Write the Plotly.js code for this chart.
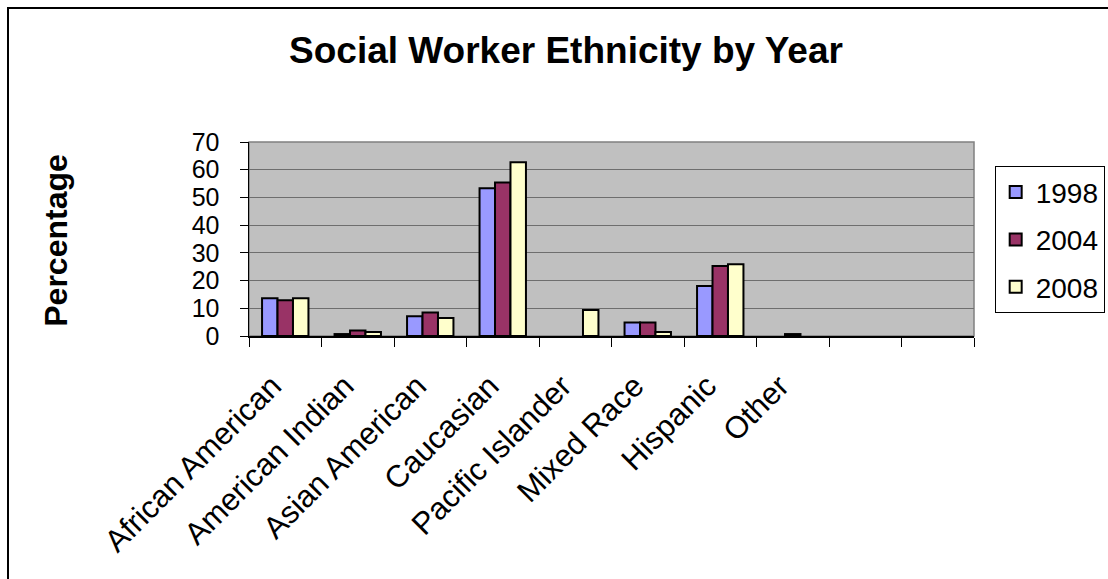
<!DOCTYPE html>
<html>
<head>
<meta charset="utf-8">
<script src="https://cdn.plot.ly/plotly-3.0.1.min.js"></script>
<style>
  html, body { margin: 0; padding: 0; background: #fff; }
  #wrap { position: relative; width: 1108px; height: 579px; overflow: hidden; }
  #chart { position: absolute; left: 0; top: 0; width: 1108px; height: 579px; }
  #frame { position: absolute; left: 7px; top: 7px; width: 1200px; height: 700px;
           border-left: 2.5px solid #000; border-top: 2.5px solid #000; pointer-events: none; }
</style>
</head>
<body>
<div id="wrap">
  <div id="chart"></div>
  <div id="frame"></div>
</div>
<script>
// Categories (last two are empty slots on the axis)
const categories = ["African American", "American Indian", "Asian American", "Caucasian",
                    "Pacific Islander", "Mixed Race", "Hispanic", "Other", " ", "  "];
const seriesNames = ["1998", "2004", "2008"];
const values1998 = [13.6, 0.7, 7.1, 53.3, null, 4.9, 18.0, null, null, null];
const values2004 = [12.9, 2.0, 8.5, 55.4, null, 4.9, 25.3, 0.7, null, null];
const values2008 = [13.6, 1.4, 6.5, 62.7, 9.4, 1.4, 25.9, null, null, null];
const seriesColors = ["#9999FF", "#993366", "#FFFFCC"];
const yTicks = [0, 10, 20, 30, 40, 50, 60, 70];

const allValues = [values1998, values2004, values2008];
const traces = allValues.map((vals, i) => ({
  type: "bar",
  name: seriesNames[i],
  x: categories,
  y: vals,
  legendgroup: "g" + i,
  marker: { color: seriesColors[i], line: { color: "#000", width: 2 } },
  hoverinfo: "x+y+name"
}));

const L = 248.7, R = 974.3, T = 141.7, B = 335.7;
const W = 1108, H = 579;
const pw = R - L, ph = B - T;

const layout = {
  width: W, height: H,
  margin: { l: L, r: W - R, t: T, b: H - B, pad: 0, autoexpand: false },
  paper_bgcolor: "#fff",
  plot_bgcolor: "#C0C0C0",
  font: { family: "Liberation Sans, Arial, sans-serif", color: "#000" },
  title: {
    text: "Social Worker Ethnicity by Year",
    font: { size: 37, weight: "bold", family: "Liberation Sans, Arial, sans-serif", color: "#000" },
    xref: "container", yref: "container",
    x: 566 / W, xanchor: "center",
    y: 1 - 50 / H, yanchor: "middle"
  },
  barmode: "group",
  bargap: 0.36,
  bargroupgap: 0,
  showlegend: true,
  legend: {
    x: (995 - L) / pw, xanchor: "left",
    y: (B - 166) / ph, yanchor: "top",
    bgcolor: "#fff",
    bordercolor: "#000", borderwidth: 1,
    font: { size: 28, color: "#000" },
    traceorder: "grouped",
    tracegroupgap: 8
  },
  xaxis: {
    type: "category",
    categoryorder: "array",
    categoryarray: categories,
    range: [-0.5, categories.length - 0.5],
    tickson: "boundaries",
    ticks: "outside", ticklen: 9, tickcolor: "#000", tickwidth: 1,
    showline: true, linecolor: "#000", linewidth: 1.5,
    showgrid: false,
    tickangle: -45,
    tickfont: { size: 31, color: "#000" },
    ticklabelstandoff: 18,
    ticklabelshift: -13,
    fixedrange: true
  },
  yaxis: {
    range: [0, 70],
    tickvals: yTicks,
    ticks: "outside", ticklen: 8, tickcolor: "#000", tickwidth: 1,
    showline: true, linecolor: "#000", linewidth: 1.5,
    showgrid: true, gridcolor: "#6E6E6E", gridwidth: 1,
    zeroline: false,
    tickfont: { size: 25, color: "#000" },
    ticklabelstandoff: 15,
    fixedrange: true
  },
  shapes: [{
    type: "rect", xref: "paper", yref: "paper",
    x0: 0, x1: 1, y0: 0, y1: 1,
    line: { color: "#808080", width: 1.5 },
    layer: "below"
  }],
  annotations: [{
    text: "<b>Percentage</b>",
    xref: "paper", yref: "paper",
    x: (56 - L) / pw, xanchor: "center",
    y: (B - 240) / ph, yanchor: "middle",
    textangle: -90,
    showarrow: false,
    font: { size: 32, color: "#000" }
  }]
};

Plotly.newPlot("chart", traces, layout, { displayModeBar: false, staticPlot: true });
</script>
</body>
</html>
